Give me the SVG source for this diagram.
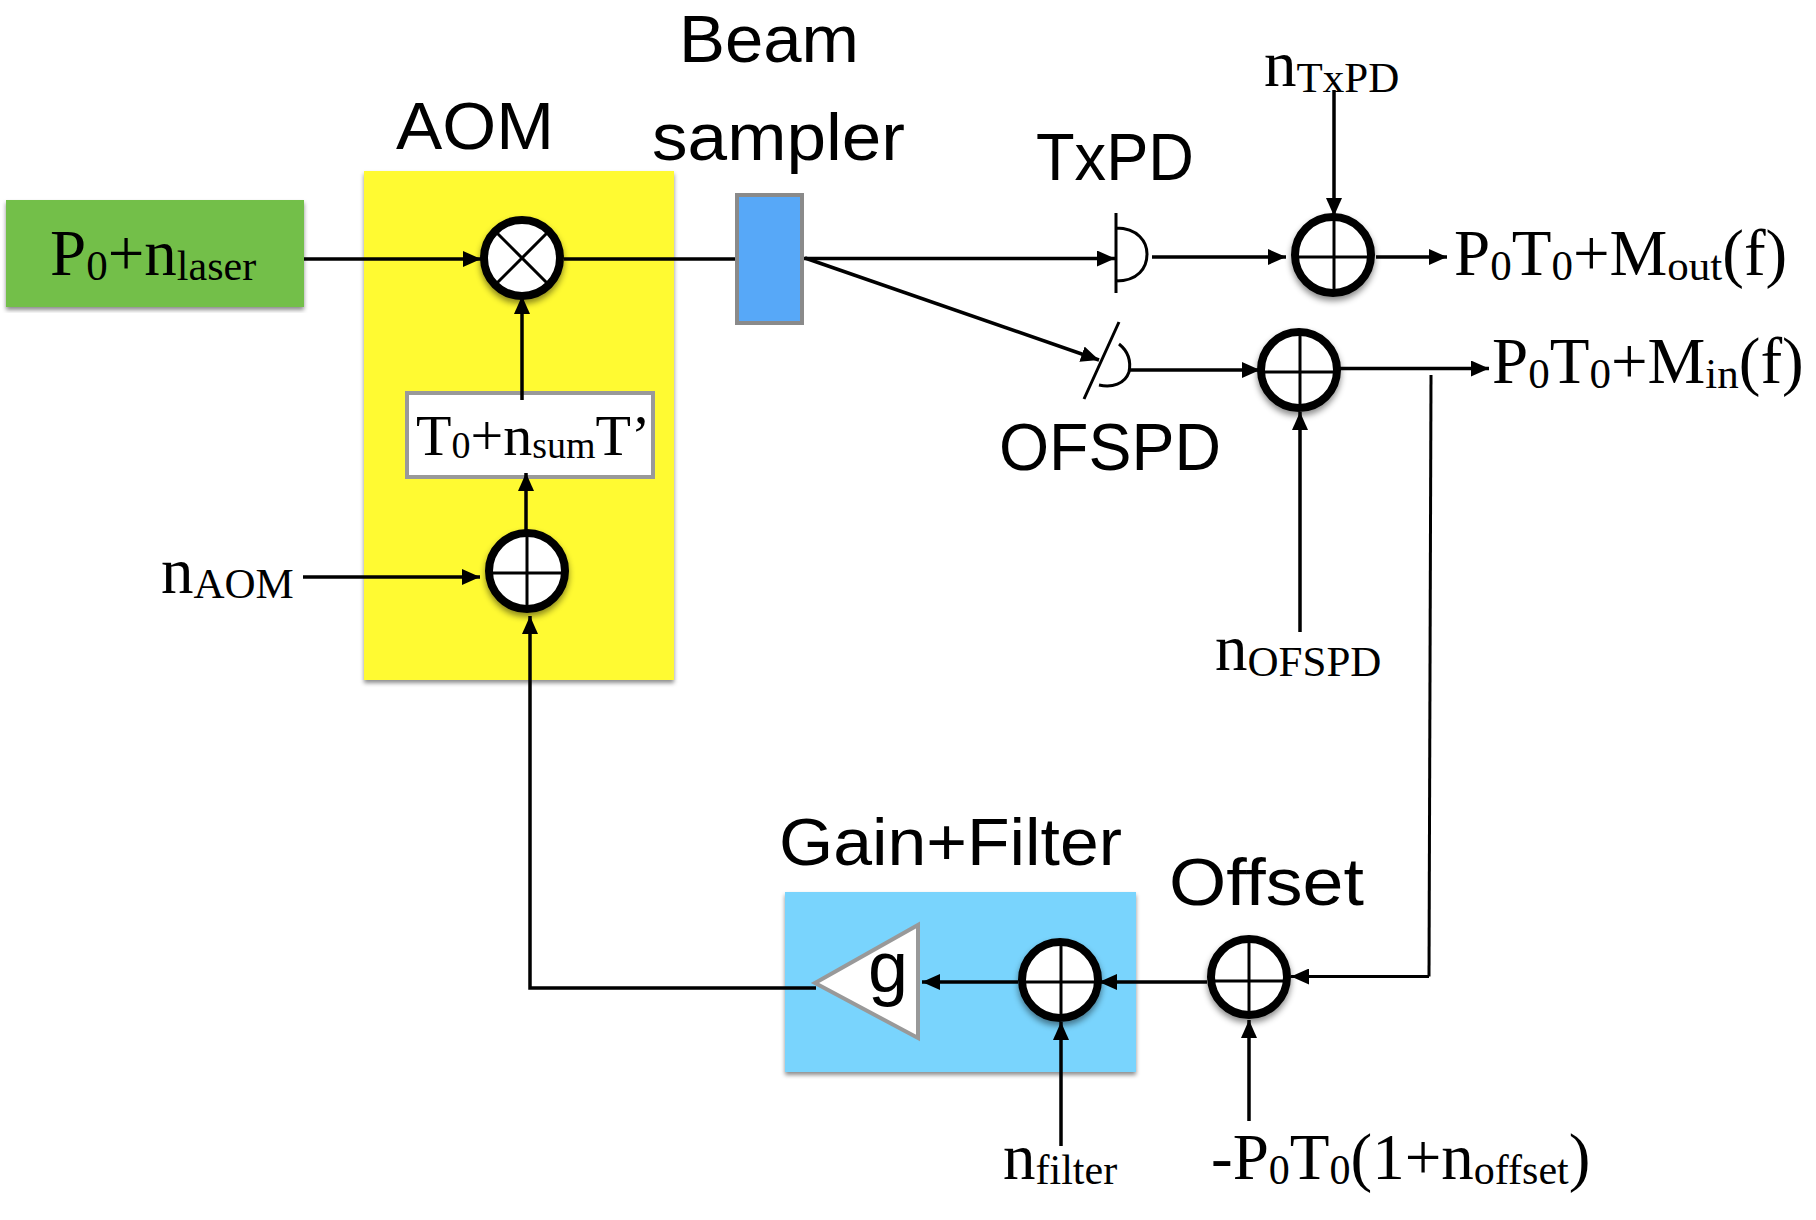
<svg xmlns="http://www.w3.org/2000/svg" width="1816" height="1220" viewBox="0 0 1816 1220">
<style>
.sans{font-family:"Liberation Sans",Arial,sans-serif;font-size:67px;fill:#000}
.ser{font-family:"Liberation Serif","Times New Roman",serif;font-size:65px;fill:#000}
.c{fill:none;stroke:#000;stroke-width:3.5}
.a{marker-end:url(#arrow)}
.sumring{fill:#fff;stroke:#000;stroke-width:8;filter:url(#sh)}
.cross{fill:none;stroke:#000;stroke-width:3}
.det{fill:none;stroke:#000;stroke-width:3}
.panel{filter:url(#sh2)}
</style>
<defs>
<marker id="arrow" markerUnits="userSpaceOnUse" markerWidth="18" markerHeight="16" refX="18" refY="8" orient="auto"><path d="M0,0 L18,8 L0,16 Z" fill="#000"/></marker>
<filter id="sh" x="-30%" y="-30%" width="160%" height="170%"><feDropShadow dx="0" dy="4" stdDeviation="3" flood-color="#000" flood-opacity="0.45"/></filter>
<filter id="sh2" x="-5%" y="-5%" width="110%" height="110%"><feDropShadow dx="0" dy="3" stdDeviation="2" flood-color="#000" flood-opacity="0.45"/></filter>
</defs>
<rect width="1816" height="1220" fill="#fff"/>
<g id="aom-panel"><rect class="panel" x="364" y="171" width="310" height="509" fill="#fffa33"/><text class="sans" x="396" y="149" textLength="158" lengthAdjust="spacingAndGlyphs">AOM</text></g>
<g id="gain-filter-panel"><rect class="panel" x="785" y="892" width="351" height="180" fill="#79d4fd"/><text class="sans" x="779" y="865" textLength="343" lengthAdjust="spacingAndGlyphs">Gain+Filter</text></g>
<g id="transfer"><rect x="407" y="393" width="246" height="84" fill="#fff" stroke="#999" stroke-width="4"/><text class="ser" style="font-size:58px" x="416" y="455">T<tspan font-size="38" dy="3">0</tspan><tspan dy="-3">+n</tspan><tspan font-size="38" dy="3">sum</tspan><tspan dy="-3">T’</tspan></text></g>
<g id="connectors">
<path class="c a" d="M304,259 H481"/>
<path class="c" d="M564,259 H737"/>
<path class="c a" d="M802,258.500 H1115"/>
<path class="c a" d="M805,258 L1099,360"/>
<path class="c a" d="M1152,257 H1286"/>
<path class="c a" d="M1376,257 H1447"/>
<path class="c a" d="M1334,90 V216"/>
<path class="c a" d="M1130,370 H1260"/>
<path class="c a" d="M1340,368.500 H1489"/>
<path class="c" style="stroke-width:3" d="M1431,375 L1429,976.500"/>
<path class="c a" style="stroke-width:3" d="M1429,976.500 H1291"/>
<path class="c a" d="M1300,632 V412"/>
<path class="c a" d="M1207,982 H1099"/>
<path class="c a" d="M1018,982 H922"/>
<path class="c a" d="M1061,1146 V1022"/>
<path class="c a" d="M1249,1121 V1020"/>
<path class="c a" d="M816,988 H530 V616"/>
<path class="c a" d="M526,530 V473"/>
<path class="c a" d="M522,400 V296"/>
<path class="c a" d="M303,577 H480"/>
</g>
<g id="laser"><rect class="panel" x="6" y="200" width="298" height="107" fill="#73bf4a"/><text class="ser" x="50" y="275">P<tspan font-size="43" dy="5">0</tspan><tspan dy="-5">+n</tspan><tspan font-size="42" dy="5">laser</tspan></text></g>
<g id="multiplier"><circle class="sumring" cx="522" cy="258" r="38"/><path class="cross" d="M495,231 L549,285 M549,231 L495,285"/></g>
<g id="beam-sampler"><rect x="737" y="195" width="65" height="128" fill="#57a8f8" stroke="#8a8a8a" stroke-width="4"/><text class="sans" x="679" y="62" textLength="180" lengthAdjust="spacingAndGlyphs">Beam</text><text class="sans" x="652" y="160" textLength="253" lengthAdjust="spacingAndGlyphs">sampler</text></g>
<g id="sum-aom"><circle class="sumring" cx="527" cy="571" r="38"/><path class="cross" d="M527,533 V609 M489,573 H565"/></g>
<g id="n-aom"><text class="ser" x="161" y="593">n<tspan font-size="43" dy="5">AOM</tspan></text></g>
<g id="txpd"><path class="det" d="M1116,213 V293 M1116,228 C1138,228 1147,242 1147,254 C1147,268 1138,281 1116,281"/><text class="sans" x="1036" y="180" textLength="158" lengthAdjust="spacingAndGlyphs">TxPD</text></g>
<g id="ofspd"><path class="det" d="M1119,322 L1084,399 M1119,344 C1129,352 1131,362 1129,372 C1125,384 1112,388 1099,385"/><text class="sans" x="999" y="470" textLength="222" lengthAdjust="spacingAndGlyphs">OFSPD</text></g>
<g id="sum-tx"><circle class="sumring" cx="1333" cy="255" r="38"/><path class="cross" d="M1334,217 V293 M1295,257 H1371"/></g>
<g id="n-txpd"><text class="ser" x="1264" y="86">n<tspan font-size="43" dy="6">TxPD</tspan></text></g>
<g id="out-tx"><text class="ser" x="1454" y="275">P<tspan font-size="43" dy="5">0</tspan><tspan dy="-5">T</tspan><tspan font-size="43" dy="5">0</tspan><tspan dy="-5">+M</tspan><tspan font-size="43" dy="5">out</tspan><tspan dy="-5">(f)</tspan></text></g>
<g id="sum-ofs"><circle class="sumring" cx="1299" cy="370" r="38"/><path class="cross" d="M1300,332 V408 M1261,372 H1337"/></g>
<g id="out-ofs"><text class="ser" x="1492" y="383">P<tspan font-size="43" dy="5">0</tspan><tspan dy="-5">T</tspan><tspan font-size="43" dy="5">0</tspan><tspan dy="-5">+M</tspan><tspan font-size="43" dy="5">in</tspan><tspan dy="-5">(f)</tspan></text></g>
<g id="n-ofspd"><text class="ser" x="1215" y="670">n<tspan font-size="43" dy="6">OFSPD</tspan></text></g>
<g id="gain"><path d="M815,983 L918,925 V1038 Z" fill="#fff" stroke="#999" stroke-width="4"/><text class="sans" style="font-size:72px" x="868" y="992">g</text></g>
<g id="sum-filter"><circle class="sumring" cx="1060" cy="980" r="38"/><path class="cross" d="M1061,942 V1018 M1022,982 H1098"/></g>
<g id="sum-offset"><circle class="sumring" cx="1249" cy="977" r="38"/><path class="cross" d="M1249,939 V1015 M1211,981 H1287"/><text class="sans" x="1169" y="905" textLength="195" lengthAdjust="spacingAndGlyphs">Offset</text></g>
<g id="n-filter"><text class="ser" x="1003" y="1179">n<tspan font-size="42" dy="5">filter</tspan></text></g>
<g id="offset-in"><text class="ser" x="1211" y="1179">-P<tspan font-size="42" dy="5">0</tspan><tspan dy="-5">T</tspan><tspan font-size="42" dy="5">0</tspan><tspan dy="-5">(1+n</tspan><tspan font-size="42" dy="5">offset</tspan><tspan dy="-5">)</tspan></text></g>
</svg>
